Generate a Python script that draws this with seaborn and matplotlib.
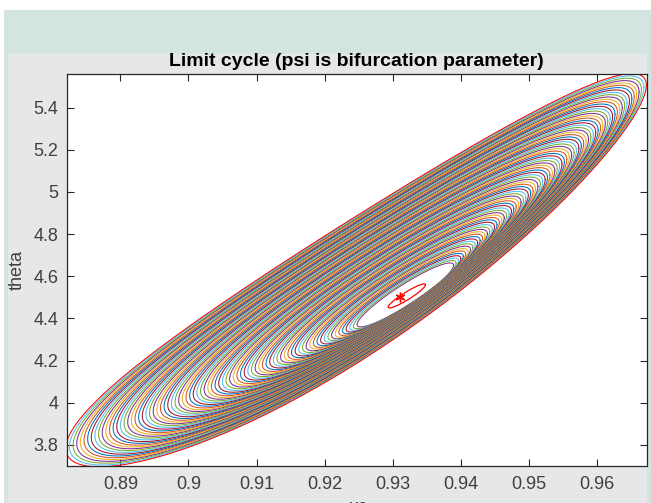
import numpy as np
import pandas as pd
import matplotlib
matplotlib.use("Agg")
import matplotlib.pyplot as plt
from matplotlib.patches import Rectangle
import seaborn as sns

sns.set_style("white")
plt.rcParams["font.family"] = ["Liberation Sans", "DejaVu Sans"]

# ---- values ----
title = "Limit cycle (psi is bifurcation parameter)"
xlabel = "uc"
ylabel = "theta"
xticks = [0.89, 0.90, 0.91, 0.92, 0.93, 0.94, 0.95, 0.96]
xtick_labels = ["0.89", "0.9", "0.91", "0.92", "0.93", "0.94", "0.95", "0.96"]
yticks = [3.8, 4.0, 4.2, 4.4, 4.6, 4.8, 5.0, 5.2, 5.4]
ytick_labels = ["3.8", "4", "4.2", "4.4", "4.6", "4.8", "5", "5.2", "5.4"]
xlim = (0.8821, 0.9673)
ylim = (3.700, 5.558)

# equilibrium point (red asterisk) and the small red cycle around it
equilibrium = (0.93098, 4.5034)
small_cycle = dict(cx=0.93205, cy=4.5067, ax=0.00274, bc=0.0530, bs=0.0210, bend=0.0)

# family of limit cycles: innermost (purple) and outermost (red) geometry
# bc / bs: in-phase / quadrature amplitude of theta, bend: sag of the middle
inner_cycle = dict(cx=0.93183, cy=4.5115, ax=0.00709, bc=0.1407, bs=0.0570, bend=0.0)
outer_cycle = dict(cx=0.92460, cy=4.6450, ax=0.04260, bc=0.8610, bs=0.3500, bend=0.110)
# relative size of each cycle of the family (inner -> outer)
levels = [0.0000, 0.0125, 0.0250, 0.0375, 0.0500, 0.0625, 0.0750, 0.0875,
          0.1000, 0.1125, 0.1250, 0.1375, 0.1500, 0.1625, 0.1750, 0.1875,
          0.2000, 0.2125, 0.2250, 0.2375, 0.2500, 0.2625, 0.2750, 0.2875,
          0.3000, 0.3125, 0.3250, 0.3375, 0.3500, 0.3625, 0.3750, 0.3875,
          0.4000, 0.4125, 0.4250, 0.4375, 0.4500, 0.4625, 0.4750, 0.4875,
          0.5000, 0.5125, 0.5250, 0.5375, 0.5500, 0.5625, 0.5750, 0.5875,
          0.6000, 0.6125, 0.6250, 0.6375, 0.6500, 0.6625, 0.6750, 0.6875,
          0.7000, 0.7125, 0.7250, 0.7375, 0.7500, 0.7625, 0.7750, 0.7875,
          0.8000, 0.8125, 0.8250, 0.8375, 0.8500, 0.8625, 0.8750, 0.8875,
          0.9000, 0.9125, 0.9250, 0.9375, 0.9500, 0.9625, 0.9750, 0.9875,
          1.0000]

matlab_colors = ["#0072BD", "#D95319", "#EDB120", "#7E2F8E", "#77AC30",
                 "#4DBEEE", "#A2142F"]


def cycle_xy(g, t):
    x = g["cx"] + g["ax"] * np.cos(t)
    y = g["cy"] + g["bc"] * np.cos(t) + g["bs"] * np.sin(t) - g["bend"] * np.sin(t) ** 2
    return x, y


# ---- build the cycles ----
t = np.linspace(0, 2 * np.pi, 481)
rows = []
for k, s in enumerate(levels):
    g = {key: inner_cycle[key] + s * (outer_cycle[key] - inner_cycle[key])
         for key in inner_cycle}
    g["bend"] = outer_cycle["bend"] * s ** 2
    x, y = cycle_xy(g, t)
    rows.append(pd.DataFrame({"x": x, "y": y, "cycle": k}))
df = pd.concat(rows, ignore_index=True)
palette = [matlab_colors[(3 + k) % 7] for k in range(len(levels))]
palette[-1] = "#FF0000"

sx, sy = cycle_xy(small_cycle, t)
small_df = pd.DataFrame({"x": sx, "y": sy})

# ---- figure ----
W, H = 651, 503
fig = plt.figure(figsize=(W / 100, H / 100), dpi=100, facecolor="white")
fig.patches.append(Rectangle((4 / W, 0), 1 - 4 / W, 1 - 10 / H,
                             transform=fig.transFigure, facecolor="#D4E4E1",
                             edgecolor="none", zorder=-3))
fig.patches.append(Rectangle((8 / W, 0), (647 - 8) / W, 1 - 54 / H,
                             transform=fig.transFigure, facecolor="#E6E7E8",
                             edgecolor="none", zorder=-2))

ax = fig.add_axes([66.5 / W, 1 - 466 / H, (647 - 66.5) / W, (466 - 74.3) / H])
ax.set_facecolor("white")

sns.lineplot(data=df, x="x", y="y", hue="cycle", palette=palette, sort=False,
             estimator=None, legend=False, linewidth=0.75, ax=ax)
sns.lineplot(data=small_df, x="x", y="y", sort=False, estimator=None,
             color="#FF0000", linewidth=0.9, ax=ax)
ax.plot([equilibrium[0]], [equilibrium[1]], marker=(6, 2, 0), color="#FF0000",
        markersize=7, markeredgewidth=1.0, linestyle="none")

ax.set_xlim(*xlim)
ax.set_ylim(*ylim)
ax.set_xticks(xticks)
ax.set_xticklabels(xtick_labels)
ax.set_yticks(yticks)
ax.set_yticklabels(ytick_labels)
ax.set_xlabel("")
ax.set_ylabel("")
ax.tick_params(direction="in", length=5, width=0.8, color="#262626",
               labelcolor="#404040", labelsize=13, top=True, right=True,
               bottom=True, left=True)
ax.tick_params(axis="x", pad=7)
ax.tick_params(axis="y", pad=6)
for sp in ax.spines.values():
    sp.set_color("#262626")
    sp.set_linewidth(0.9)
    sp.set_visible(True)

fig.text((66.5 + 647) / 2 / W, 1 - 62 / H, title, ha="center", va="center",
         fontsize=14, fontweight="bold", color="black")
fig.text(17 / W, 1 - 270 / H, ylabel, ha="center", va="center", rotation=90,
         fontsize=13, color="#404040")
fig.text(358 / W, 1 - 499 / H, xlabel, ha="center", va="top",
         fontsize=13, color="#404040")

fig.savefig("out.png", dpi=100, facecolor=fig.get_facecolor())
